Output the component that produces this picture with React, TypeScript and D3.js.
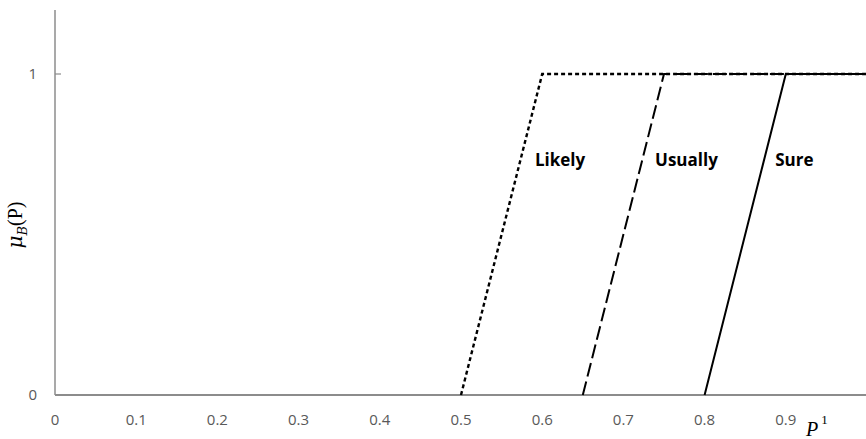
import React from 'react';
import * as d3 from 'd3';

const xTicks = [0, 0.1, 0.2, 0.3, 0.4, 0.5, 0.6, 0.7, 0.8, 0.9];
const yTicks = [0, 1];

const likely: [number, number][] = [[0.5, 0], [0.6, 1], [1, 1]];
const usually: [number, number][] = [[0.65, 0], [0.75, 1], [1, 1]];
const sure: [number, number][] = [[0.8, 0], [0.9, 1], [1, 1]];

const seriesNames = ['Likely', 'Usually', 'Sure'];
const labelPos: [number, number][] = [[0.591, 0.713], [0.739, 0.713], [0.887, 0.713]];

const App = () => {
  const ref = React.useRef<SVGSVGElement>(null);

  React.useEffect(() => {
    const svg = d3.select(ref.current);
    svg.selectAll('*').remove();

    const x = d3.scaleLinear().domain([0, 1]).range([55, 867]);
    const y = d3.scaleLinear().domain([0, 1]).range([395, 74]);
    const axisColor = '#8c8c8c';
    const textColor = '#595959';
    const font = "'Open Sans', 'Liberation Sans', sans-serif";

    // axes
    svg.append('line')
      .attr('x1', x(0)).attr('x2', 866)
      .attr('y1', y(0)).attr('y2', y(0))
      .attr('stroke', axisColor).attr('stroke-width', 1.8);
    svg.append('line')
      .attr('x1', x(0)).attr('x2', x(0))
      .attr('y1', 10).attr('y2', y(0))
      .attr('stroke', axisColor).attr('stroke-width', 1.5);
    svg.append('line')
      .attr('x1', x(0)).attr('x2', x(0) + 6)
      .attr('y1', y(1)).attr('y2', y(1))
      .attr('stroke', axisColor).attr('stroke-width', 1.2);

    svg.selectAll('text.xt')
      .data(xTicks)
      .enter().append('text')
      .attr('class', 'xt')
      .attr('x', d => x(d))
      .attr('y', 425)
      .attr('text-anchor', 'middle')
      .attr('font-family', font)
      .attr('font-size', 15)
      .attr('fill', textColor)
      .text(d => d3.format('')(d));

    svg.selectAll('text.yt')
      .data(yTicks)
      .enter().append('text')
      .attr('class', 'yt')
      .attr('x', 37)
      .attr('y', d => y(d) + 5)
      .attr('text-anchor', 'end')
      .attr('font-family', font)
      .attr('font-size', 15)
      .attr('fill', textColor)
      .text(d => d);

    const line = d3.line<[number, number]>().x(d => x(d[0])).y(d => y(d[1]));
    const series = [
      { data: sure, dash: null, width: 2 },
      { data: usually, dash: '14,5', width: 2 },
      { data: likely, dash: '4,3', width: 2.4 },
    ];
    series.forEach(s => {
      svg.append('path')
        .attr('d', line(s.data))
        .attr('fill', 'none')
        .attr('stroke', '#000')
        .attr('stroke-width', s.width)
        .attr('stroke-dasharray', s.dash);
    });

    svg.selectAll('text.lab')
      .data(seriesNames)
      .enter().append('text')
      .attr('class', 'lab')
      .attr('x', (d, i) => x(labelPos[i][0]))
      .attr('y', (d, i) => y(labelPos[i][1]))
      .attr('text-anchor', 'start')
      .attr('font-family', font)
      .attr('font-size', 17)
      .attr('font-weight', 'bold')
      .attr('fill', '#000')
      .text(d => d);

    // y axis label
    const yl = svg.append('text')
      .attr('transform', 'translate(22,225) rotate(-90)')
      .attr('text-anchor', 'middle')
      .attr('font-family', "'DejaVu Serif', 'Liberation Serif', serif")
      .attr('font-size', 20)
      .attr('fill', '#000');
    yl.append('tspan').attr('font-style', 'italic').text('μ');
    yl.append('tspan').attr('font-style', 'italic').attr('font-size', 13).attr('dy', 5).text('B');
    yl.append('tspan').attr('dy', -5).attr('font-family', "'Liberation Serif', serif").text('(P)');

    // x axis label
    const xl = svg.append('text')
      .attr('x', 806)
      .attr('y', 436)
      .attr('font-family', "'Liberation Serif', serif")
      .attr('font-size', 20)
      .attr('font-style', 'italic')
      .attr('fill', '#000');
    xl.append('tspan').text('P');
    xl.append('tspan').attr('font-style', 'normal').attr('font-size', 13).attr('dy', -12).attr('dx', 3).text('1');
  }, []);

  return <svg ref={ref} width={866} height={439} style={{ position: 'absolute', left: 0, top: 0 }} />;
};

export default App;
